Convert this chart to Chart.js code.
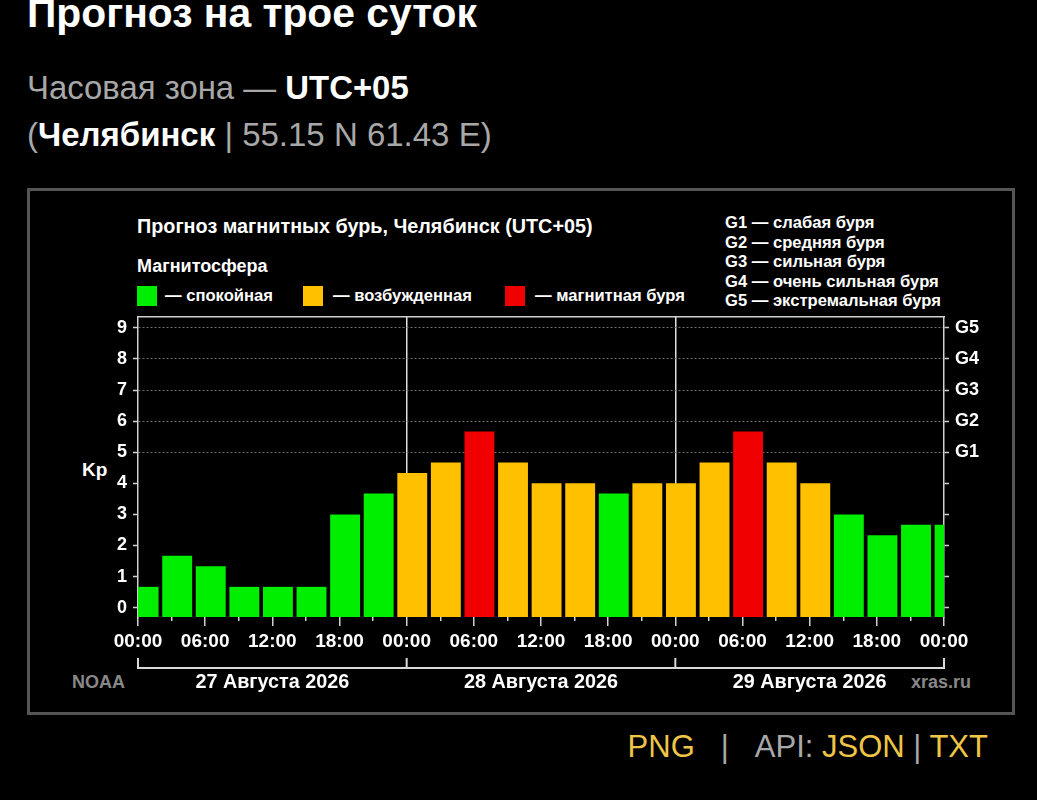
<!DOCTYPE html>
<html lang="ru">
<head>
<meta charset="utf-8">
<title>Прогноз на трое суток</title>
<script src="https://cdn.jsdelivr.net/npm/chart.js@4.4.1/dist/chart.umd.min.js"></script>
<style>
  html, body { margin: 0; padding: 0; background: #000; width: 1037px; height: 800px; overflow: hidden; }
  body { font-family: "Liberation Sans", Arial, sans-serif; position: relative; }
  .abs { position: absolute; white-space: nowrap; line-height: 1; }
  .b { font-weight: bold; color: #fff; }
  .g { color: #a8a8a8; }
  .y { color: #eec546; }
  #box { position: absolute; left: 27px; top: 188px; width: 988px; height: 527px; border: 3px solid #555; box-sizing: border-box; }
  #wrap { position: absolute; left: 0; top: 0; width: 1037px; height: 800px; }
  .sq { position: absolute; width: 20px; height: 20px; }
  .lg { font-weight: bold; color: #fff; font-size: 16.6px; }
</style>
</head>
<body>
<div class="abs b" style="left:27px; top:-7px; font-size:40.8px;">Прогноз на трое суток</div>
<div class="abs g" style="left:27px; top:72px; font-size:32.9px;">Часовая зона — <span class="b">UTC+05</span></div>
<div class="abs g" style="left:27px; top:118px; font-size:33px;">(<span class="b">Челябинск</span> | 55.15 N 61.43 E)</div>

<div id="box"></div>

<div class="abs b" style="left:137px; top:217px; font-size:19.8px;">Прогноз магнитных бурь, Челябинск (UTC+05)</div>
<div class="abs b" style="left:137px; top:257px; font-size:18px;">Магнитосфера</div>

<div class="sq" id="sq0" style="left:137px; top:286px;"></div>
<div class="abs lg" style="left:165px; top:288px;">— спокойная</div>
<div class="sq" id="sq1" style="left:303px; top:286px;"></div>
<div class="abs lg" style="left:333px; top:288px;">— возбужденная</div>
<div class="sq" id="sq2" style="left:505px; top:286px;"></div>
<div class="abs lg" style="left:535px; top:288px;">— магнитная буря</div>

<div class="abs lg" style="left:725px; top:213px; line-height:19.6px;">G1 — слабая буря<br>G2 — средняя буря<br>G3 — сильная буря<br>G4 — очень сильная буря<br>G5 — экстремальная буря</div>

<div class="abs b" style="left:82px; top:460px; font-size:19px;">Kp</div>
<div class="abs" style="left:72px; top:673px; font-size:18px; font-weight:bold; color:#888;">NOAA</div>
<div class="abs" style="left:911px; top:673px; font-size:18px; font-weight:bold; color:#888;">xras.ru</div>

<div class="abs" style="right:49px; top:731px; font-size:31px;"><span class="y">PNG</span><span class="g" style="margin:0 26px;">|</span><span class="g">API: </span><span class="y">JSON</span><span class="g"> | </span><span class="y">TXT</span></div>

<div id="wrap"><canvas id="c"></canvas></div>

<script>
// ---- data ----
// 3-hour Kp periods, start hour (local UTC+05) counted from 27 Aug 00:00
const periodStart = [-1, 2, 5, 8, 11, 14, 17, 20, 23, 26, 29, 32, 35, 38, 41, 44, 47, 50, 53, 56, 59, 62, 65, 68, 71];
const kpValues = [0.67, 1.67, 1.33, 0.67, 0.67, 0.67, 3.0, 3.67,
                  4.33, 4.67, 5.67, 4.67, 4.0, 4.0, 3.67, 4.0,
                  4.0, 4.67, 5.67, 4.67, 4.0, 3.0, 2.33, 2.67, 2.67];
const timeTickLabels = ['00:00', '', '06:00', '', '12:00', '', '18:00', '',
                        '00:00', '', '06:00', '', '12:00', '', '18:00', '',
                        '00:00', '', '06:00', '', '12:00', '', '18:00', '', '00:00'];
const kpTickLabels = ['0', '1', '2', '3', '4', '5', '6', '7', '8', '9'];
const gTickLabels = ['', '', '', '', '', 'G1', 'G2', 'G3', 'G4', 'G5'];
const dayBounds = [0, 24, 48, 72];
const dayLabels = ['27 Августа 2026', '28 Августа 2026', '29 Августа 2026'];

const COLORS = { quiet: '#00ee00', active: '#ffc000', storm: '#f00000' };
function kpColor(v) { return v >= 5 ? COLORS.storm : (v >= 4 ? COLORS.active : COLORS.quiet); }
document.getElementById('sq0').style.background = COLORS.quiet;
document.getElementById('sq1').style.background = COLORS.active;
document.getElementById('sq2').style.background = COLORS.storm;

const Y_MIN = -0.3, Y_MAX = 9.35;
const FONT = '"Liberation Sans", Arial, sans-serif';
Chart.defaults.font.family = FONT;

const dayBracket = {
  id: 'dayBracket',
  afterDraw(chart) {
    const xs = chart.scales.x, ctx = chart.ctx;
    const base = chart.chartArea.bottom;
    const yLine = base + 51, yTop = base + 41;
    ctx.save();
    ctx.strokeStyle = '#d8d8d8';
    ctx.lineWidth = 2;
    ctx.beginPath();
    ctx.moveTo(xs.getPixelForValue(dayBounds[0]), yLine);
    ctx.lineTo(xs.getPixelForValue(dayBounds[dayBounds.length - 1]), yLine);
    dayBounds.forEach(b => {
      const p = xs.getPixelForValue(b);
      ctx.moveTo(p, yLine + 1);
      ctx.lineTo(p, yTop);
    });
    ctx.stroke();
    ctx.fillStyle = '#fff';
    ctx.font = 'bold 19.8px ' + FONT;
    ctx.textAlign = 'center';
    ctx.textBaseline = 'alphabetic';
    dayLabels.forEach((l, i) => {
      const c = (xs.getPixelForValue(dayBounds[i]) + xs.getPixelForValue(dayBounds[i + 1])) / 2;
      ctx.fillText(l, c, base + 71);
    });
    ctx.restore();
  }
};

new Chart(document.getElementById('c'), {
  type: 'bar',
  data: {
    datasets: [{
      data: periodStart.map((s, i) => ({ x: s + 1.5, y: kpValues[i] })),
      backgroundColor: kpValues.map(kpColor),
      borderWidth: 0,
      base: Y_MIN,
      barPercentage: 0.89,
      categoryPercentage: 1,
      clip: 0
    }]
  },
  options: {
    responsive: true,
    maintainAspectRatio: false,
    animation: false,
    layout: { padding: { left: 0, right: 0, top: 317, bottom: 143 } },
    plugins: { legend: { display: false }, tooltip: { enabled: false }, title: { display: false } },
    scales: {
      x: {
        type: 'linear',
        position: 'bottom',
        min: 0, max: 72,
        offset: false,
        afterFit: s => { s.height = 40; },
        border: { display: false },
        grid: {
          offset: false,
          drawOnChartArea: true,
          color: c => (c.tick && c.tick.value > 0 && c.tick.value < 72 && c.tick.value % 24 === 0) ? '#e0e0e0' : 'rgba(0,0,0,0)',
          lineWidth: 1.5,
          drawTicks: true,
          tickLength: 9,
          tickColor: '#d0d0d0',
          tickWidth: 1.5,
          tickBorderDash: c => (c.tick && c.tick.value % 6 === 0) ? [] : [4, 100]
        },
        ticks: {
          stepSize: 3,
          autoSkip: false,
          maxRotation: 0,
          includeBounds: false,
          padding: 4,
          color: '#fff',
          font: { size: 19, weight: 'bold' },
          callback: (v, i) => timeTickLabels[i]
        }
      },
      xTop: {
        type: 'linear',
        position: 'top',
        min: 0, max: 72,
        afterFit: s => { s.height = 0; },
        border: { display: true, color: '#d0d0d0', width: 1.5 },
        grid: { display: false },
        ticks: { display: false }
      },
      y: {
        type: 'linear',
        position: 'left',
        min: Y_MIN, max: Y_MAX,
        afterFit: s => { s.width = 138; },
        border: { display: true, color: '#d0d0d0', width: 1.5, dash: [2, 2] },
        grid: {
          drawOnChartArea: true,
          color: c => (c.tick && c.tick.value >= 5) ? '#707070' : 'rgba(0,0,0,0)',
          lineWidth: 1,
          drawTicks: true,
          tickLength: 5,
          tickColor: '#d0d0d0',
          tickWidth: 1.5
        },
        ticks: {
          stepSize: 1,
          includeBounds: false,
          padding: 6,
          color: '#fff',
          font: { size: 18, weight: 'bold' },
          callback: v => kpTickLabels[v]
        }
      },
      yG: {
        type: 'linear',
        position: 'right',
        min: Y_MIN, max: Y_MAX,
        afterFit: s => { s.width = 93; },
        border: { display: true, color: '#d0d0d0', width: 1.5 },
        grid: {
          drawOnChartArea: false,
          drawTicks: true,
          tickLength: 5,
          tickColor: '#d0d0d0',
          tickWidth: 1.5
        },
        ticks: {
          stepSize: 1,
          includeBounds: false,
          padding: 6,
          color: '#fff',
          font: { size: 18, weight: 'bold' },
          callback: v => gTickLabels[v]
        }
      }
    }
  },
  plugins: [dayBracket]
});
</script>
</body>
</html>
